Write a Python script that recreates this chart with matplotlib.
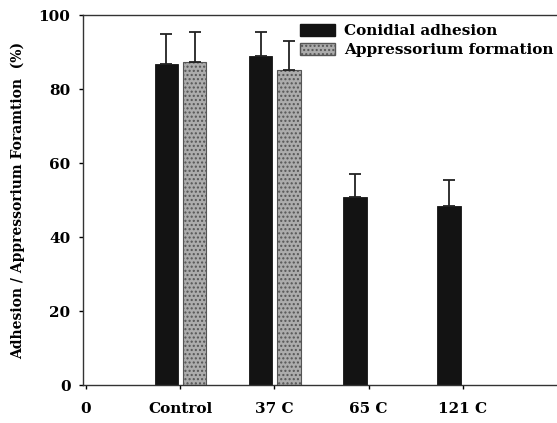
import matplotlib
matplotlib.use("Agg")
import matplotlib.pyplot as plt
from matplotlib.patches import Patch
import numpy as np

categories = ["0", "Control", "37 C", "65 C", "121 C"]
bar_positions = [1, 2, 3, 4]
adhesion = [86.8, 88.9, 50.7, 48.3]
adhesion_err = [8.0, 6.6, 6.3, 7.2]
appr_positions = [1, 2]
appressorium = [87.3, 85.2]
appressorium_err = [8.1, 7.8]

plt.rcParams['font.family'] = ['DejaVu Serif']
plt.rcParams['font.weight'] = 'bold'
plt.rcParams['hatch.color'] = '#777777'

fig = plt.figure(figsize=(5.57, 4.23), dpi=100)
ax = fig.add_axes([0.149, 0.0898, 0.851, 0.8747])

w = 0.25
xa = np.array(bar_positions) - 0.145
xb = np.array(appr_positions) + 0.155
ax.bar(xa, adhesion, width=w, color='#131313', edgecolor='#131313', linewidth=0.6, zorder=2)
ax.errorbar(xa, adhesion, yerr=[np.zeros(len(adhesion)), adhesion_err], fmt='none',
            ecolor='#222222', elinewidth=1.3, capsize=4, capthick=1.3, zorder=3)
ax.bar(xb, appressorium, width=w, color='#acacac', edgecolor='#555555', linewidth=0.8,
       hatch='....', zorder=2)
ax.errorbar(xb, appressorium, yerr=[np.zeros(len(appressorium)), appressorium_err], fmt='none',
            ecolor='#222222', elinewidth=1.3, capsize=4, capthick=1.3, zorder=3)

ax.set_xlim(-0.03, 5.0)
ax.set_ylim(0, 100)
ax.set_yticks([0, 20, 40, 60, 80, 100])
ax.set_xticks(range(len(categories)))
ax.set_xticklabels(categories)
ax.tick_params(axis='both', labelsize=11, length=3, width=1, pad=6)
ax.tick_params(axis='x', pad=9)
for lab in ax.get_yticklabels() + ax.get_xticklabels():
    lab.set_fontweight('bold')
ax.spines['right'].set_visible(False)
for s in ['left', 'bottom', 'top']:
    ax.spines[s].set_linewidth(1.0)
    ax.spines[s].set_color('#333333')

ax.set_ylabel('Adhesion / Appressorium Foramtion  (%)', fontsize=10, fontweight='bold', labelpad=10)

handles = [Patch(facecolor='#131313', edgecolor='#131313'),
           Patch(facecolor='#acacac', edgecolor='#555555', hatch='....')]
leg = ax.legend(handles, ['Conidial adhesion', 'Appressorium formation'],
                loc='upper right', bbox_to_anchor=(1.0, 0.985), frameon=False,
                fontsize=11, handlelength=2.3, handleheight=0.9, handletextpad=0.6,
                labelspacing=0.3, borderpad=0.1, borderaxespad=0.1)
for t in leg.get_texts():
    t.set_fontweight('bold')

fig.savefig('out.png', dpi=100)
